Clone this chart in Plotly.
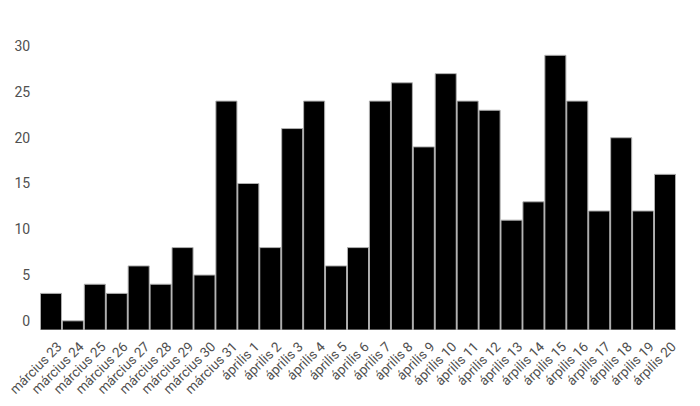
import plotly.graph_objects as go

categories = [
    "március 23", "március 24", "március 25", "március 26", "március 27",
    "március 28", "március 29", "március 30", "március 31",
    "április 1", "április 2", "április 3", "április 4", "április 5",
    "április 6", "április 7", "április 8", "április 9", "április 10",
    "április 11", "április 12", "április 13",
    "árpilis 14", "árpilis 15", "árpilis 16", "árpilis 17", "árpilis 18",
    "árpilis 19", "árpilis 20",
]
values = [3, 0, 4, 3, 6, 4, 8, 5, 24, 15, 8, 21, 24, 6, 8, 24, 26, 19, 27,
          24, 23, 11, 13, 29, 24, 12, 20, 12, 16]
y_ticks = [0, 5, 10, 15, 20, 25, 30]

BASE = -1  # bars in the reference are drawn from slightly below zero

fig = go.Figure(
    go.Bar(
        x=categories,
        y=[v - BASE for v in values],
        base=BASE,
        customdata=values,
        hovertemplate="%{x}: %{customdata}<extra></extra>",
        marker=dict(color="#000000", line=dict(color="#b0b0b0", width=1)),
    )
)

fig.update_layout(
    width=700,
    height=406,
    margin=dict(l=32, r=32, t=29, b=84),
    paper_bgcolor="white",
    plot_bgcolor="white",
    bargap=0.04,
    showlegend=False,
    font=dict(family="Roboto, Arial, sans-serif", size=14, color="#505050"),
)
fig.update_xaxes(
    tickangle=-45,
    tickfont=dict(family="Roboto, Arial, sans-serif", size=13.5, color="#505050"),
    showgrid=False,
    showline=False,
    zeroline=False,
    ticks="",
    ticklabelstandoff=5,
    ticklabelshift=7,
    automargin=False,
)
fig.update_yaxes(
    range=[-1, 31],
    tickvals=y_ticks,
    tickfont=dict(size=14, color="#505050"),
    showgrid=False,
    zeroline=False,
    showline=False,
    ticks="outside",
    ticklen=6,
    tickcolor="rgba(0,0,0,0)",
    automargin=False,
)

fig.write_html("out.html")
